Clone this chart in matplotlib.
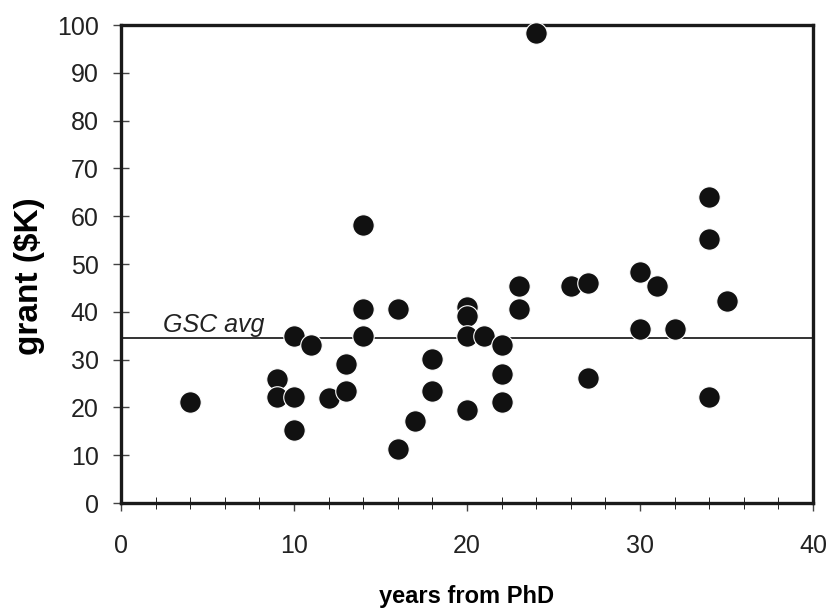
import numpy as np
import matplotlib.pyplot as plt

plt.rcParams["font.family"] = ["Liberation Sans", "DejaVu Sans"]

# years from PhD and grant ($K)
years = [4, 9, 9, 10, 10, 10, 11, 12, 13, 13, 14, 14, 14, 16, 16, 17, 18, 18,
         20, 20, 20, 20, 21, 22, 22, 22, 23, 23, 24, 26, 27, 27, 30, 30, 31, 32,
         34, 34, 34, 35]
grant = [21.1, 26, 22.1, 35, 22.1, 15.3, 33.1, 21.9, 29.1, 23.4, 58.1, 40.5,
         35, 40.5, 11.4, 17.2, 30.1, 23.4, 41, 39.1, 35, 19.4, 35, 33.1, 26.9,
         21.1, 45.3, 40.5, 98.4, 45.3, 46.1, 26.1, 48.4, 36.4, 45.3, 36.4,
         64.1, 55.2, 22.1, 42.2]
gsc_avg = 34.5

x_ticks = [0, 10, 20, 30, 40]
y_ticks = list(range(0, 101, 10))

fig = plt.figure(figsize=(8.38, 6.13), dpi=100)
ax = fig.add_axes([0.1444, 0.1794, 0.8258, 0.7798])

ax.scatter(years, grant, s=240, color="#111111", edgecolors="white",
           linewidths=0.8, zorder=3, clip_on=False)
ax.axhline(gsc_avg, color="#333333", linewidth=1.4, zorder=2)
ax.text(2.45, gsc_avg + 1.2, "GSC avg", fontsize=18, style="italic",
        color="#222222", va="baseline", ha="left")

ax.set_xlim(0, 40)
ax.set_ylim(0, 100)
ax.set_xticks(x_ticks)
ax.set_xticks(np.arange(0, 41, 2), minor=True)
ax.set_yticks(y_ticks)
ax.tick_params(axis="both", labelsize=18, labelcolor="#222222",
               color="#444444", width=1.0)
ax.tick_params(axis="x", which="major", direction="out", length=5.5, pad=17)
ax.tick_params(axis="x", which="minor", direction="inout", length=8)
ax.tick_params(axis="y", which="major", direction="inout", length=12, pad=10)

for side in ax.spines.values():
    side.set_linewidth(2.4)
    side.set_color("#1a1a1a")

ax.set_xlabel("years from PhD", fontsize=17, fontweight="bold", va="top")
ax.xaxis.set_label_coords(0.5, -0.172)
ax.set_ylabel("grant ($K)", fontsize=24, fontweight="bold")
ax.yaxis.set_label_coords(-0.11, 0.475)

fig.savefig("out.png", dpi=100)
plt.close(fig)
